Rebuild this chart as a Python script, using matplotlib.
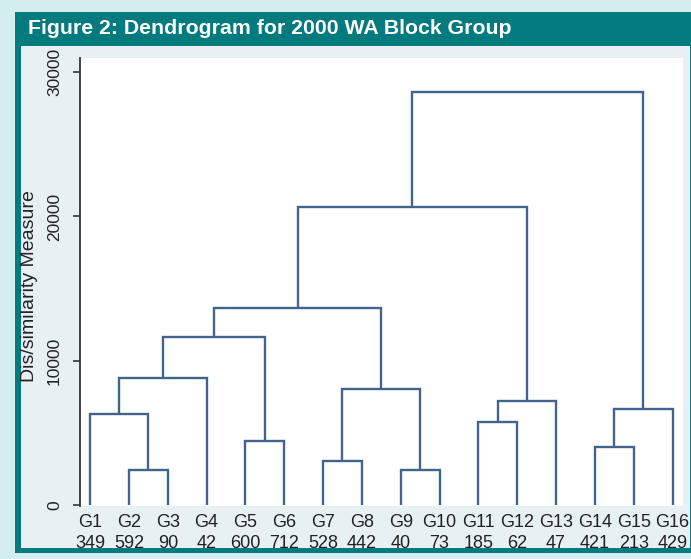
import matplotlib.pyplot as plt
from matplotlib.patches import Rectangle

plt.rcParams["font.family"] = ["Liberation Sans", "DejaVu Sans"]

groups = ["G1", "G2", "G3", "G4", "G5", "G6", "G7", "G8",
          "G9", "G10", "G11", "G12", "G13", "G14", "G15", "G16"]
counts = [349, 592, 90, 42, 600, 712, 528, 442, 40, 73, 185, 62, 47, 421, 213, 429]

# node ids 0-15 are the groups, each merge creates the next id (16, 17, ...)
merge_left = [1, 0, 17, 4, 18, 6, 8, 21, 20, 10, 25, 24, 13, 28, 27]
merge_right = [2, 16, 3, 5, 19, 7, 9, 22, 23, 11, 12, 26, 14, 15, 29]
merge_height = [2480, 6330, 8845, 4460, 11680, 3100, 2480, 8040,
                13690, 5800, 7210, 20660, 4070, 6700, 28640]

y_ticks = [0, 10000, 20000, 30000]

W, H = 691, 559
outer_bg = "#d4edef"
teal = "#037a7e"
panel_bg = "#e7f0f3"
line_color = "#41648c"


def fx(x):
    return x / W


def fy(y):
    return 1 - y / H


fig = plt.figure(figsize=(W / 100, H / 100), dpi=100, facecolor=outer_bg)

# frame: teal border with title bar, light panel inside
fig.add_artist(Rectangle((fx(15), fy(553)), fx(W + 5) - fx(15), fy(12) - fy(553),
                         transform=fig.transFigure, facecolor=teal, edgecolor="none", zorder=-10))
fig.add_artist(Rectangle((fx(21), fy(548)), fx(690) - fx(21), fy(46) - fy(548),
                         transform=fig.transFigure, facecolor=panel_bg, edgecolor="none", zorder=-9))
fig.text(fx(28), fy(29), "Figure 2: Dendrogram for 2000 WA Block Group",
         color="white", fontsize=15.3, fontweight="bold", va="center", ha="left")

ax = fig.add_axes([fx(80), fy(506), fx(683) - fx(80), fy(57.5) - fy(506)])
ax.set_facecolor("white")

xpos = [float(i) for i in range(len(groups))]
ypos = [0.0] * len(groups)
for left, right, h in zip(merge_left, merge_right, merge_height):
    ax.plot([xpos[left], xpos[left], xpos[right], xpos[right]],
            [ypos[left], h, h, ypos[right]],
            color=line_color, linewidth=1.7, solid_joinstyle="miter", solid_capstyle="butt")
    xpos.append((xpos[left] + xpos[right]) / 2)
    ypos.append(h)

ax.set_xlim(-0.26, 15.27)
ax.set_ylim(-40, 31000)

for side in ["top", "right", "bottom"]:
    ax.spines[side].set_visible(False)
ax.spines["left"].set_color("#333333")
ax.spines["left"].set_linewidth(1.3)

ax.set_xticks(range(len(groups)))
ax.set_xticklabels([f"{g}\n{c}" for g, c in zip(groups, counts)],
                   fontsize=13, color="#222222", linespacing=1.3)
ax.tick_params(axis="x", length=0, pad=5.5)

ax.set_yticks(y_ticks)
ax.set_yticklabels([str(v) for v in y_ticks], rotation=90, va="center",
                   fontsize=12.5, color="#222222")
ax.tick_params(axis="y", length=5, width=1.2, color="#333333", pad=8)

fig.text(fx(29.5), fy(286), "Dis/similarity Measure", rotation=90,
         ha="center", va="center", fontsize=14, color="#222222")

fig.savefig("out.png", dpi=100, facecolor=outer_bg)
